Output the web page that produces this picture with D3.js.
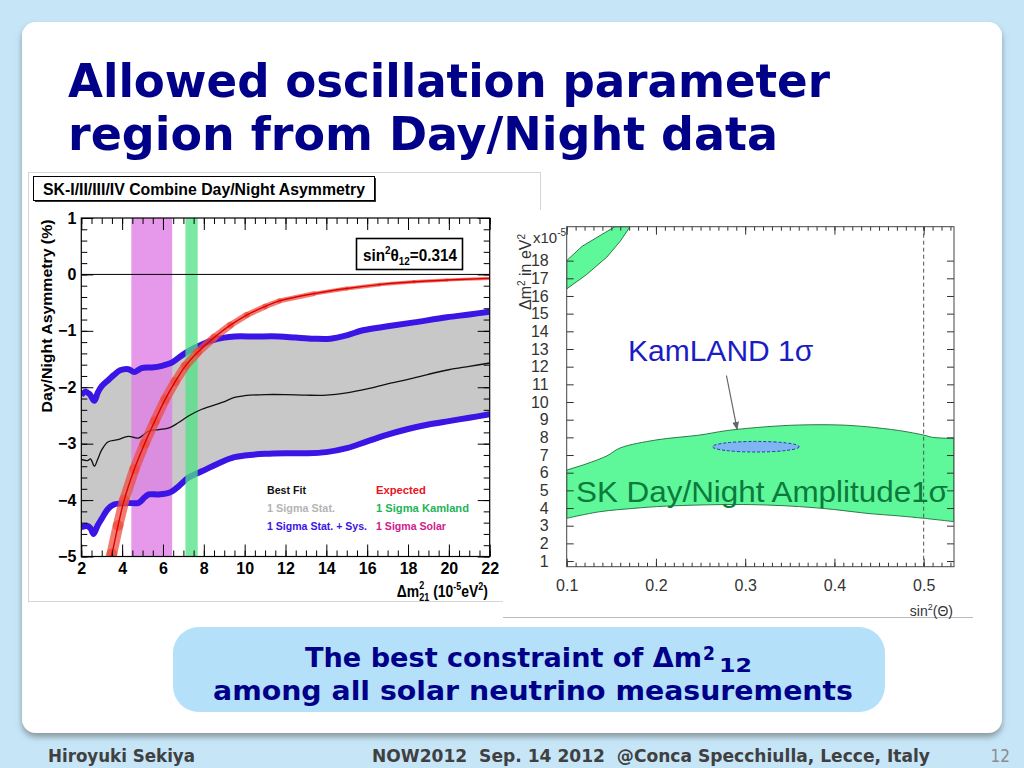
<!DOCTYPE html>
<html>
<head>
<meta charset="utf-8">
<script src="https://cdn.jsdelivr.net/npm/d3@7"></script>
<style>
  html, body { margin: 0; padding: 0; background: #c6e6f8; }
  svg { display: block; }
  text { white-space: pre; }
</style>
</head>
<body>
<svg id="slide" width="1024" height="768"></svg>
<script>
// ---- left plot: day/night asymmetry vs dm2 ----
const statSysUpper = [[2.0,-2.14],[2.2,-2.08],[2.4,-2.12],[2.64,-2.24],[2.8,-2.1],[3.0,-1.98],[3.3,-1.88],[3.6,-1.78],[3.9,-1.7],[4.3,-1.68],[4.6,-1.73],[4.95,-1.66],[5.45,-1.65],[5.95,-1.62],[6.45,-1.56],[6.9,-1.44],[7.4,-1.33],[7.8,-1.26],[8.4,-1.17],[9.0,-1.12],[9.5,-1.1],[10.5,-1.1],[11.7,-1.1],[12.5,-1.12],[13.4,-1.14],[14.2,-1.14],[15.0,-1.08],[15.8,-0.99],[17.0,-0.92],[18.3,-0.85],[19.9,-0.76],[21.0,-0.71],[22.0,-0.66]];
const statSysLower = [[2.0,-4.48],[2.3,-4.46],[2.45,-4.5],[2.6,-4.6],[2.8,-4.45],[3.0,-4.33],[3.3,-4.16],[3.6,-4.08],[3.9,-4.06],[4.3,-4.05],[4.8,-4.05],[5.1,-3.95],[5.3,-3.9],[5.8,-3.9],[6.3,-3.87],[6.75,-3.76],[7.25,-3.6],[7.9,-3.49],[8.9,-3.32],[9.5,-3.24],[10,-3.21],[11,-3.18],[12,-3.17],[13,-3.17],[14,-3.15],[15,-3.08],[16,-2.96],[17,-2.84],[18,-2.74],[19,-2.66],[20,-2.6],[21,-2.54],[22,-2.48]];
const bestFit = [[2.0,-3.28],[2.3,-3.3],[2.45,-3.27],[2.64,-3.4],[2.8,-3.28],[3.0,-3.11],[3.3,-2.97],[3.8,-2.93],[4.3,-2.87],[4.8,-2.9],[5.3,-2.78],[5.8,-2.75],[6.3,-2.72],[6.75,-2.63],[7.25,-2.51],[7.9,-2.39],[8.9,-2.27],[9.5,-2.18],[10,-2.15],[11,-2.13],[12,-2.13],[13,-2.14],[14,-2.14],[15,-2.1],[16,-2.03],[17,-1.94],[18,-1.86],[19,-1.77],[20,-1.69],[21,-1.63],[22,-1.57]];
const expected = [[3.35,-5.15],[3.5,-4.95],[3.8,-4.45],[4.1,-4.0],[4.6,-3.45],[5.1,-3.0],[5.6,-2.6],[6.1,-2.22],[6.6,-1.9],[7.1,-1.62],[7.7,-1.38],[8.5,-1.12],[9.3,-0.9],[10.1,-0.72],[11,-0.57],[11.7,-0.47],[13.4,-0.34],[15,-0.25],[16.6,-0.18],[18.3,-0.13],[19.9,-0.1],[22,-0.07]];
const solarBand = [4.45, 6.45];
const kamlandBand = [7.1, 7.7];
const asymXTicks = [2, 4, 6, 8, 10, 12, 14, 16, 18, 20, 22];
const asymYTicks = [-5, -4, -3, -2, -1, 0, 1];
const legendLeft = ["Best Fit", "1 Sigma Stat.", "1 Sigma Stat. + Sys."];
const legendRight = ["Expected", "1 Sigma Kamland", "1 Sigma Solar"];
const legendLeftColors = ["#111111", "#b4b4b4", "#3b14e6"];
const legendRightColors = ["#e8141e", "#1db45a", "#d0208c"];

// ---- right plot: dm2 vs sin2(theta) ----
const skUpper = [[0.1,6.15],[0.122,6.5],[0.145,6.95],[0.16,7.4],[0.2,7.85],[0.249,8.13],[0.279,8.38],[0.324,8.6],[0.361,8.7],[0.406,8.7],[0.436,8.6],[0.473,8.38],[0.5,8.13],[0.51,8.0],[0.534,7.94]];
const skLower = [[0.1,3.42],[0.137,3.79],[0.175,3.98],[0.212,4.11],[0.287,4.2],[0.324,4.17],[0.361,4.08],[0.399,3.92],[0.436,3.7],[0.473,3.55],[0.5,3.42],[0.534,3.23]];
const skIsland = [[0.1,18.0],[0.117,18.8],[0.154,19.92],[0.171,19.92],[0.16,19.1],[0.145,18.2],[0.122,17.2],[0.1,16.4]];
const kamlandCenter = [0.312, 7.47];
const kamlandRadius = [0.0485, 0.3];
const arrowFrom = [0.279, 11.5];
const arrowTo = [0.291, 8.45];
const sinXTicks = [0.1, 0.2, 0.3, 0.4, 0.5];
const dmYTicks = [1, 2, 3, 4, 5, 6, 7, 8, 9, 10, 11, 12, 13, 14, 15, 16, 17, 18];

const svg = d3.select("#slide");
const defs = svg.append("defs");
const sh = defs.append("filter").attr("id", "shadow")
  .attr("x", "-3%").attr("y", "-3%").attr("width", "106%").attr("height", "108%");
sh.append("feDropShadow").attr("dx", 0).attr("dy", 4).attr("stdDeviation", 3)
  .attr("flood-color", "#555").attr("flood-opacity", 0.55);

const arial = "'Liberation Sans',Arial,sans-serif";
const tahoma = "'DejaVu Sans Condensed','DejaVu Sans',sans-serif";

// slide background + white panel
svg.append("rect").attr("width", 1024).attr("height", 768).attr("fill", "#c6e6f8");
svg.append("rect").attr("x", 22).attr("y", 22).attr("width", 980).attr("height", 711)
  .attr("rx", 14).attr("fill", "#fff").attr("filter", "url(#shadow)");

// title
[["Allowed oscillation parameter", 97, 762], ["region from Day/Night data", 150, 710]].forEach(([t, y, w]) => {
  svg.append("text").attr("x", 68).attr("y", y).text(t)
    .attr("font-family", tahoma).attr("font-weight", "bold").attr("font-size", 46)
    .attr("fill", "#000088").attr("textLength", w).attr("lengthAdjust", "spacingAndGlyphs");
});

// ================= left picture =================
svg.append("rect").attr("x", 28.5).attr("y", 172.5).attr("width", 512).attr("height", 429)
  .attr("fill", "#fff").attr("stroke", "#d6d6d6");

const xL = d3.scaleLinear().domain([2, 22]).range([81.3, 489.7]);
const yL = d3.scaleLinear().domain([-5, 1]).range([556.5, 218]);

defs.append("clipPath").attr("id", "clipL").append("rect")
  .attr("x", xL(2)).attr("y", yL(1)).attr("width", xL(22) - xL(2)).attr("height", yL(-5) - yL(1));

const gL = svg.append("g");
const plotL = gL.append("g").attr("clip-path", "url(#clipL)");

const lineL = d3.line().x(d => xL(d[0])).y(d => yL(d[1])).curve(d3.curveCatmullRom);

// 1 sigma stat (grey)
plotL.append("path")
  .attr("d", lineL(statSysUpper) + lineL(statSysLower.slice().reverse()).replace(/^M/, "L") + "Z")
  .attr("fill", "#c8c8c8");

// solar band (magenta)
plotL.append("rect").attr("x", xL(solarBand[0])).attr("y", yL(1))
  .attr("width", xL(solarBand[1]) - xL(solarBand[0])).attr("height", yL(-5) - yL(1))
  .attr("fill", "#e07ee6").attr("opacity", 0.8);

// stat+sys edges (blue)
[statSysUpper, statSysLower].forEach(s => {
  plotL.append("path").attr("d", lineL(s)).attr("fill", "none")
    .attr("stroke", "#3b14e6").attr("stroke-width", 6).attr("stroke-linejoin", "round");
});

// kamland band (green)
plotL.append("rect").attr("x", xL(kamlandBand[0])).attr("y", yL(1))
  .attr("width", xL(kamlandBand[1]) - xL(kamlandBand[0])).attr("height", yL(-5) - yL(1))
  .attr("fill", "#4ee184").attr("opacity", 0.75);

// best fit
plotL.append("path").attr("d", lineL(bestFit)).attr("fill", "none")
  .attr("stroke", "#111").attr("stroke-width", 1.3);

// expected (red band + line)
const bandW = d3.scaleLinear().domain([3, 7, 10, 14, 22]).range([11, 9, 6, 4, 3]).clamp(true);
d3.pairs(expected).forEach(([a, b]) => {
  plotL.append("line").attr("x1", xL(a[0])).attr("y1", yL(a[1])).attr("x2", xL(b[0])).attr("y2", yL(b[1]))
    .attr("stroke", "#ee4a3c").attr("stroke-opacity", 0.72)
    .attr("stroke-width", bandW((a[0] + b[0]) / 2)).attr("stroke-linecap", "round");
});
plotL.append("path").attr("d", lineL(expected)).attr("fill", "none")
  .attr("stroke", "#dd0000").attr("stroke-width", 1.4);

// zero line
gL.append("line").attr("x1", xL(2)).attr("x2", xL(22)).attr("y1", yL(0)).attr("y2", yL(0))
  .attr("stroke", "#000").attr("stroke-width", 1);

// axes (ROOT style inward ticks)
function styleAxis(g, font, size, weight, color) {
  g.select(".domain").remove();
  g.selectAll("line").attr("stroke", color);
  g.selectAll("text").attr("font-family", font).attr("font-size", size)
    .attr("font-weight", weight).attr("fill", color);
}
const minorX = d3.range(2, 22.001, 0.5);
const minorY = d3.range(-5, 1.001, 0.2);
gL.append("g").attr("transform", `translate(0,${yL(-5)})`)
  .call(d3.axisBottom(xL).tickValues(minorX).tickSize(-6).tickFormat(""))
  .call(g => styleAxis(g, arial, 16, "bold", "#000"));
gL.append("g").attr("transform", `translate(0,${yL(-5)})`)
  .call(d3.axisBottom(xL).tickValues(asymXTicks).tickSize(-12).tickPadding(6).tickFormat(d3.format("d")))
  .call(g => styleAxis(g, arial, 16, "bold", "#000"));
gL.append("g").attr("transform", `translate(0,${yL(1)})`)
  .call(d3.axisTop(xL).tickValues(minorX).tickSize(-6).tickFormat(""))
  .call(g => styleAxis(g, arial, 16, "bold", "#000"));
gL.append("g").attr("transform", `translate(0,${yL(1)})`)
  .call(d3.axisTop(xL).tickValues(asymXTicks).tickSize(-12).tickFormat(""))
  .call(g => styleAxis(g, arial, 16, "bold", "#000"));
gL.append("g").attr("transform", `translate(${xL(2)},0)`)
  .call(d3.axisLeft(yL).tickValues(minorY).tickSize(-6).tickFormat(""))
  .call(g => styleAxis(g, arial, 16, "bold", "#000"));
gL.append("g").attr("transform", `translate(${xL(2)},0)`)
  .call(d3.axisLeft(yL).tickValues(asymYTicks).tickSize(-12).tickPadding(5).tickFormat(d3.format("d")))
  .call(g => styleAxis(g, arial, 16, "bold", "#000"));
gL.append("g").attr("transform", `translate(${xL(22)},0)`)
  .call(d3.axisRight(yL).tickValues(minorY).tickSize(-6).tickFormat(""))
  .call(g => styleAxis(g, arial, 16, "bold", "#000"));
gL.append("g").attr("transform", `translate(${xL(22)},0)`)
  .call(d3.axisRight(yL).tickValues(asymYTicks).tickSize(-12).tickFormat(""))
  .call(g => styleAxis(g, arial, 16, "bold", "#000"));

gL.append("rect").attr("x", xL(2)).attr("y", yL(1)).attr("width", xL(22) - xL(2))
  .attr("height", yL(-5) - yL(1)).attr("fill", "none").attr("stroke", "#000").attr("stroke-width", 1.2);

// axis titles
gL.append("text").attr("transform", `translate(52,316) rotate(-90)`).attr("text-anchor", "middle")
  .attr("font-family", arial).attr("font-weight", "bold").attr("font-size", 15)
  .attr("textLength", 193).attr("lengthAdjust", "spacingAndGlyphs")
  .text("Day/Night Asymmetry (%)");

// x title, squeezed horizontally like the narrow ROOT font
const xt = gL.append("g").attr("transform", "translate(488,597) scale(0.82,1)")
  .append("text").attr("text-anchor", "end")
  .attr("font-family", arial).attr("font-weight", "bold").attr("font-size", 17);
xt.append("tspan").text("\u0394m");
xt.append("tspan").attr("dy", -8).attr("font-size", 11).text("2");
xt.append("tspan").attr("dx", -6).attr("dy", 12).attr("font-size", 11).text("21");
xt.append("tspan").attr("dy", -4).text(" (10");
xt.append("tspan").attr("dy", -7).attr("font-size", 11).text("-5");
xt.append("tspan").attr("dy", 7).text("eV");
xt.append("tspan").attr("dy", -7).attr("font-size", 11).text("2");
xt.append("tspan").attr("dy", 7).text(")");

// header box
gL.append("rect").attr("x", 35).attr("y", 178).attr("width", 341).attr("height", 24).attr("fill", "#333");
gL.append("rect").attr("x", 33.5).attr("y", 176.5).attr("width", 341).attr("height", 24)
  .attr("fill", "#fff").attr("stroke", "#000");
gL.append("text").attr("x", 204).attr("y", 194.5).attr("text-anchor", "middle")
  .attr("font-family", arial).attr("font-weight", "bold").attr("font-size", 17)
  .attr("textLength", 322).attr("lengthAdjust", "spacingAndGlyphs")
  .text("SK-I/II/III/IV Combine Day/Night Asymmetry");

// sin2 theta box
gL.append("rect").attr("x", 356.5).attr("y", 238.5).attr("width", 106).attr("height", 31)
  .attr("fill", "#fff").attr("stroke", "#000").attr("stroke-width", 1.6);
const st = gL.append("g").attr("transform", "translate(410,261) scale(0.9,1)")
  .append("text").attr("text-anchor", "middle")
  .attr("font-family", arial).attr("font-weight", "bold").attr("font-size", 17);
st.append("tspan").text("sin");
st.append("tspan").attr("dy", -7).attr("font-size", 11).text("2");
st.append("tspan").attr("dy", 7).text("\u03b8");
st.append("tspan").attr("dy", 4).attr("font-size", 11).text("12");
st.append("tspan").attr("dy", -4).text("=0.314");

// legend
const legRows = [494, 512, 530];
const legLeftW = [39, 68, 100];
const legRightW = [50, 93, 70];
legendLeft.forEach((t, i) => {
  gL.append("text").attr("x", 267).attr("y", legRows[i]).text(t)
    .attr("font-family", arial).attr("font-weight", "bold").attr("font-size", 11)
    .attr("textLength", legLeftW[i]).attr("lengthAdjust", "spacingAndGlyphs")
    .attr("fill", legendLeftColors[i]);
});
legendRight.forEach((t, i) => {
  gL.append("text").attr("x", 376).attr("y", legRows[i]).text(t)
    .attr("font-family", arial).attr("font-weight", "bold").attr("font-size", 11)
    .attr("textLength", legRightW[i]).attr("lengthAdjust", "spacingAndGlyphs")
    .attr("fill", legendRightColors[i]);
});

// ================= right picture =================
svg.append("rect").attr("x", 503).attr("y", 210).attr("width", 470).attr("height", 407).attr("fill", "#fff");
svg.append("line").attr("x1", 503).attr("x2", 973).attr("y1", 617.5).attr("y2", 617.5)
  .attr("stroke", "#bbb");

const xR = d3.scaleLinear().domain([0.1, 0.534]).range([566.7, 954]);
const yR = d3.scaleLinear().domain([0.68, 19.92]).range([566.7, 226.7]);
defs.append("clipPath").attr("id", "clipR").append("rect")
  .attr("x", xR(0.1)).attr("y", yR(19.92)).attr("width", xR(0.534) - xR(0.1)).attr("height", yR(0.68) - yR(19.92));

const gR = svg.append("g");
const plotR = gR.append("g").attr("clip-path", "url(#clipR)");
const lineR = d3.line().x(d => xR(d[0])).y(d => yR(d[1])).curve(d3.curveCatmullRom);

plotR.append("path")
  .attr("d", lineR(skUpper) + lineR(skLower.slice().reverse()).replace(/^M/, "L") + "Z")
  .attr("fill", "#5ef79a").attr("stroke", "#1f6b3a").attr("stroke-width", 0.9);
plotR.append("path").attr("d", d3.line().x(d => xR(d[0])).y(d => yR(d[1]))(skIsland) + "Z")
  .attr("fill", "#5ef79a").attr("stroke", "#1f6b3a").attr("stroke-width", 0.9);

plotR.append("ellipse")
  .attr("cx", xR(kamlandCenter[0])).attr("cy", yR(kamlandCenter[1]))
  .attr("rx", xR(kamlandCenter[0] + kamlandRadius[0]) - xR(kamlandCenter[0]))
  .attr("ry", yR(kamlandCenter[1]) - yR(kamlandCenter[1] + kamlandRadius[1]))
  .attr("fill", "#80b4f2").attr("stroke", "#1f3f9f").attr("stroke-width", 1).attr("stroke-dasharray", "3,2");

plotR.append("line").attr("x1", xR(0.5)).attr("x2", xR(0.5)).attr("y1", yR(0.68)).attr("y2", yR(19.92))
  .attr("stroke", "#555").attr("stroke-width", 1).attr("stroke-dasharray", "4,3");

// arrow
defs.append("marker").attr("id", "arrowhead").attr("viewBox", "0 0 10 10").attr("refX", 9).attr("refY", 5)
  .attr("markerWidth", 7).attr("markerHeight", 7).attr("orient", "auto")
  .append("path").attr("d", "M0,1 L10,5 L0,9 Z").attr("fill", "#666");
gR.append("line").attr("x1", xR(arrowFrom[0])).attr("y1", yR(arrowFrom[1]))
  .attr("x2", xR(arrowTo[0])).attr("y2", yR(arrowTo[1]))
  .attr("stroke", "#666").attr("stroke-width", 1.2).attr("marker-end", "url(#arrowhead)");

const minorS = d3.range(0.1, 0.5345, 0.01);
gR.append("g").attr("transform", `translate(0,${yR(0.68)})`)
  .call(d3.axisBottom(xR).tickValues(minorS).tickSize(-4).tickFormat(""))
  .call(g => styleAxis(g, arial, 16, "normal", "#333"));
gR.append("g").attr("transform", `translate(0,${yR(0.68)})`)
  .call(d3.axisBottom(xR).tickValues(sinXTicks).tickSize(-8).tickPadding(13).tickFormat(d3.format(".1f")))
  .call(g => styleAxis(g, arial, 16, "normal", "#333"));
gR.append("g").attr("transform", `translate(0,${yR(19.92)})`)
  .call(d3.axisTop(xR).tickValues(minorS).tickSize(-4).tickFormat(""))
  .call(g => styleAxis(g, arial, 16, "normal", "#333"));
gR.append("g").attr("transform", `translate(0,${yR(19.92)})`)
  .call(d3.axisTop(xR).tickValues(sinXTicks).tickSize(-8).tickFormat(""))
  .call(g => styleAxis(g, arial, 16, "normal", "#333"));
gR.append("g").attr("transform", `translate(${xR(0.1)},0)`)
  .call(d3.axisLeft(yR).tickValues(dmYTicks).tickSize(-7).tickPadding(18).tickFormat(d3.format("d")))
  .call(g => styleAxis(g, arial, 16, "normal", "#333"));
gR.append("g").attr("transform", `translate(${xR(0.534)},0)`)
  .call(d3.axisRight(yR).tickValues(dmYTicks).tickSize(-7).tickFormat(""))
  .call(g => styleAxis(g, arial, 16, "normal", "#333"));

gR.append("rect").attr("x", xR(0.1)).attr("y", yR(19.92)).attr("width", xR(0.534) - xR(0.1))
  .attr("height", yR(0.68) - yR(19.92)).attr("fill", "none").attr("stroke", "#444").attr("stroke-width", 1);

const yt = gR.append("text").attr("transform", "translate(531,310) rotate(-90)")
  .attr("font-family", arial).attr("font-size", 16).attr("fill", "#333");
yt.append("tspan").text("\u0394m");
yt.append("tspan").attr("dy", -6).attr("font-size", 10).text("2");
yt.append("tspan").attr("dy", 6).text(" in eV");
yt.append("tspan").attr("dy", -6).attr("font-size", 10).text("2");

const xe = gR.append("text").attr("x", 533).attr("y", 243)
  .attr("font-family", arial).attr("font-size", 15).attr("fill", "#333");
xe.append("tspan").text("x10");
xe.append("tspan").attr("dy", -7).attr("font-size", 10).text("-5");

const sx = gR.append("text").attr("x", 953).attr("y", 616).attr("text-anchor", "end")
  .attr("font-family", arial).attr("font-size", 14).attr("fill", "#333");
sx.append("tspan").text("sin");
sx.append("tspan").attr("dy", -6).attr("font-size", 9).text("2");
sx.append("tspan").attr("dy", 6).text("(\u0398)");

gR.append("text").attr("x", 628).attr("y", 361).text("KamLAND 1\u03c3")
  .attr("font-family", arial).attr("font-size", 30).attr("fill", "#1c1cc4");
gR.append("text").attr("x", 576).attr("y", 502).text("SK Day/Night Amplitude1\u03c3")
  .attr("font-family", arial).attr("font-size", 30).attr("fill", "#0b7a3a")
  .attr("textLength", 372).attr("lengthAdjust", "spacingAndGlyphs");

// ================= bottom message box =================
svg.append("rect").attr("x", 173).attr("y", 627).attr("width", 712).attr("height", 85)
  .attr("rx", 26).attr("fill", "#b4e0fa");
const boxText = { "font-family": tahoma, "font-weight": "bold", "fill": "#000088" };
function applyAttrs(sel, o) { Object.entries(o).forEach(([k, v]) => sel.attr(k, v)); return sel; }
applyAttrs(svg.append("text").attr("x", 305).attr("y", 667).attr("font-size", 27)
  .attr("textLength", 397).attr("lengthAdjust", "spacingAndGlyphs")
  .text("The best constraint of \u0394m"), boxText);
applyAttrs(svg.append("text").attr("x", 703).attr("y", 660).attr("font-size", 19).text("2"), boxText);
applyAttrs(svg.append("text").attr("x", 719).attr("y", 672).attr("font-size", 19)
  .attr("textLength", 33).attr("lengthAdjust", "spacingAndGlyphs").text("12"), boxText);
applyAttrs(svg.append("text").attr("x", 533).attr("y", 700).attr("text-anchor", "middle").attr("font-size", 27)
  .attr("textLength", 640).attr("lengthAdjust", "spacingAndGlyphs")
  .text("among all solar neutrino measurements"), boxText);

// ================= footer =================
svg.append("text").attr("x", 48).attr("y", 762).text("Hiroyuki Sekiya")
  .attr("font-family", tahoma).attr("font-weight", "bold").attr("font-size", 18).attr("fill", "#404040")
  .attr("textLength", 147).attr("lengthAdjust", "spacingAndGlyphs");
svg.append("text").attr("x", 372).attr("y", 762).text("NOW2012  Sep. 14 2012  @Conca Specchiulla, Lecce, Italy")
  .attr("font-family", tahoma).attr("font-weight", "bold").attr("font-size", 18).attr("fill", "#404040")
  .attr("textLength", 558).attr("lengthAdjust", "spacingAndGlyphs");
svg.append("text").attr("x", 1010).attr("y", 762).attr("text-anchor", "end").text("12")
  .attr("font-family", tahoma).attr("font-size", 17).attr("fill", "#8c8c8c");
</script>
</body>
</html>
